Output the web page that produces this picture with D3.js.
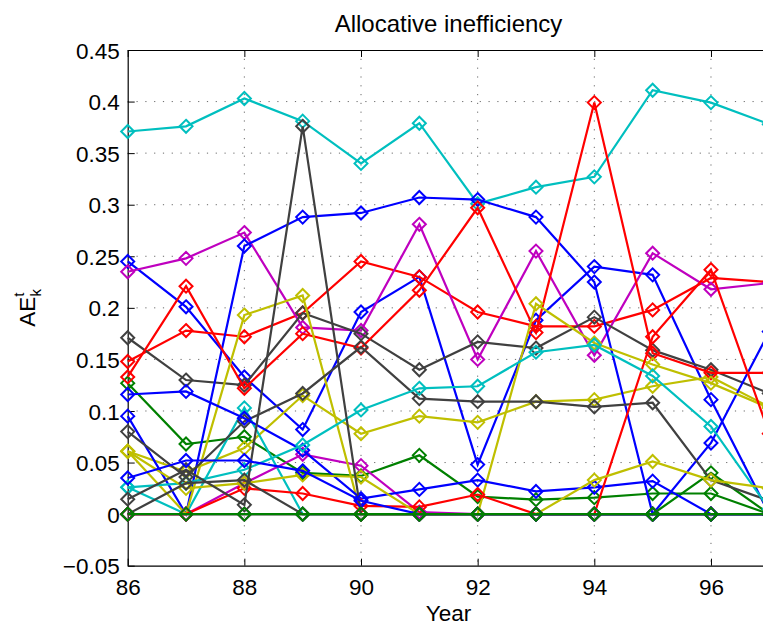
<!DOCTYPE html>
<html>
<head>
<meta charset="utf-8">
<script src="https://cdn.jsdelivr.net/npm/d3@7"></script>
<style>
  html, body { margin: 0; padding: 0; background: #fff; overflow: hidden; }
  svg { display: block; }
  text { font-family: "Liberation Sans", Arial, Helvetica, sans-serif; fill: #000; }
</style>
</head>
<body>
<div id="chart"></div>
<script>
// ---- data ----
const years = [86, 87, 88, 89, 90, 91, 92, 93, 94, 95, 96, 97];
const xTicks = [86, 88, 90, 92, 94, 96];
const yTicks = [-0.05, 0, 0.05, 0.1, 0.15, 0.2, 0.25, 0.3, 0.35, 0.4, 0.45];
const titleText = "Allocative inefficiency";
const xLabelText = "Year";

const blue1    = [0.245, 0.201, 0.133, 0.082, 0.196, 0.230, 0.048, 0.188, 0.240, 0.232, 0.111, 0.000];
const green1   = [0.127, 0.068, 0.075, 0.040, 0.037, 0.057, 0.017, 0.014, 0.016, 0.020, 0.020, 0.000];
const red1     = [0.148, 0.178, 0.172, 0.195, 0.245, 0.230, 0.196, 0.182, 0.182, 0.198, 0.229, 0.225];
const cyan1    = [0.371, 0.376, 0.403, 0.381, 0.340, 0.379, 0.301, 0.317, 0.327, 0.411, 0.399, 0.378];
const magenta1 = [0.235, 0.248, 0.273, 0.181, 0.178, 0.281, 0.150, 0.255, 0.154, 0.253, 0.218, 0.224];
const yellow1  = [0.061, 0.041, 0.064, 0.115, 0.078, 0.095, 0.089, 0.109, 0.111, 0.124, 0.133, 0.104];
const gray1    = [0.171, 0.130, 0.125, 0.195, 0.175, 0.140, 0.167, 0.161, 0.191, 0.159, 0.140, 0.117];

const blue2    = [0.095, 0.000, 0.260, 0.288, 0.292, 0.307, 0.305, 0.288, 0.225, 0.000, 0.069, 0.177];
const green2   = [0.000, 0.000, 0.000, 0.000, 0.000, 0.000, 0.000, 0.000, 0.000, 0.000, 0.040, 0.000];
const red2     = [0.133, 0.221, 0.122, 0.175, 0.161, 0.217, 0.297, 0.176, 0.399, 0.156, 0.137, 0.137];
const cyan2    = [0.026, 0.000, 0.103, 0.000, 0.000, 0.000, 0.000, 0.000, 0.000, 0.000, 0.000, 0.000];
const magenta2 = [0.000, 0.000, 0.030, 0.058, 0.047, 0.002, 0.000, 0.000, 0.000, 0.000, 0.000, 0.000];
const yellow2  = [0.061, 0.000, 0.193, 0.212, 0.000, 0.000, 0.000, 0.204, 0.166, 0.145, 0.127, 0.103];
const gray2    = [0.080, 0.036, 0.090, 0.117, 0.162, 0.112, 0.109, 0.109, 0.104, 0.108, 0.033, 0.013];

const blue3    = [0.116, 0.119, 0.093, 0.062, 0.015, 0.024, 0.033, 0.022, 0.026, 0.032, 0.000, 0.000];
const red3     = [0.000, 0.000, 0.025, 0.020, 0.008, 0.007, 0.019, 0.000, 0.000, 0.172, 0.237, 0.078];
const cyan3    = [0.026, 0.030, 0.043, 0.067, 0.101, 0.122, 0.124, 0.157, 0.164, 0.134, 0.085, 0.005];
const magenta3 = [0.000, 0.000, 0.000, 0.000, 0.000, 0.000, 0.000, 0.000, 0.000, 0.000, 0.000, 0.000];
const yellow3  = [0.061, 0.025, 0.030, 0.038, 0.036, 0.000, 0.000, 0.000, 0.033, 0.051, 0.033, 0.025];
const gray3    = [0.0145, 0.043, 0.009, 0.376, 0.000, 0.000, 0.000, 0.000, 0.000, 0.000, 0.000, 0.000];
const blue4    = [0.035, 0.052, 0.052, 0.042, 0.013, 0.000, 0.000, 0.000, 0.000, 0.000, 0.000, 0.000];
const gray4    = [0.000, 0.030, 0.033, 0.000, 0.000, 0.000, 0.000, 0.000, 0.000, 0.000, 0.000, 0.000];
const green3   = [0.000, 0.000, 0.000, 0.000, 0.000, 0.000, 0.000, 0.000, 0.000, 0.000, 0.000, 0.000];

const palette = {
  b: "#0000ff", g: "#008000", r: "#ff0000", c: "#00bfbf",
  m: "#bf00bf", y: "#bfbf00", k: "#404040"
};

const seriesList = [
  ["b", blue1], ["g", green1], ["r", red1], ["c", cyan1], ["m", magenta1], ["y", yellow1], ["k", gray1],
  ["b", blue2], ["g", green2], ["r", red2], ["c", cyan2], ["m", magenta2], ["y", yellow2], ["k", gray2],
  ["b", blue3], ["r", red3], ["c", cyan3], ["m", magenta3], ["y", yellow3], ["k", gray3],
  ["b", blue4], ["k", gray4], ["g", green3]
];

// ---- layout ----
const W = 763, H = 623;
const mLeft = 127.7, mRight = 769.3, mTop = 50, mBottom = 565.7;

const svg = d3.select("#chart").append("svg")
  .attr("width", W).attr("height", H);

const x = d3.scaleLinear().domain([86, 97]).range([mLeft, mRight]);
const y = d3.scaleLinear().domain([-0.05, 0.45]).range([mBottom, mTop]);

// grid
const grid = svg.append("g").attr("class", "grid");
grid.selectAll("line.gx").data(xTicks.slice(1)).enter().append("line")
  .attr("x1", d => x(d)).attr("x2", d => x(d))
  .attr("y1", mTop).attr("y2", mBottom)
  .attr("stroke", "#6a6a6a").attr("stroke-width", 1)
  .attr("stroke-dasharray", "1.2,7.6");
grid.selectAll("line.gy").data(yTicks.slice(1, -1)).enter().append("line")
  .attr("x1", mLeft).attr("x2", mRight)
  .attr("y1", d => y(d)).attr("y2", d => y(d))
  .attr("stroke", "#6a6a6a").attr("stroke-width", 1)
  .attr("stroke-dasharray", "1.2,7.6");

const fmt = d => {
  const s = String(Math.round(d * 100) / 100);
  return s.replace("-", "\u2212");
};

// axes
const fontSize = 22.5;
const yAxis = d3.axisLeft(y).tickValues(yTicks).tickSizeInner(-7).tickSizeOuter(0)
  .tickPadding(8).tickFormat(fmt);
const gy = svg.append("g").attr("transform", `translate(${mLeft},0)`).call(yAxis);
gy.selectAll("text").attr("font-size", fontSize).attr("dy", "0.36em")
  .style("font-family", "'Liberation Sans', Arial, sans-serif");

const xAxis = d3.axisBottom(x).tickValues(xTicks).tickSizeInner(-7).tickSizeOuter(0)
  .tickPadding(13).tickFormat(d => String(d));
const gx = svg.append("g").attr("transform", `translate(0,${mBottom})`).call(xAxis);
gx.selectAll("text").attr("font-size", fontSize)
  .style("font-family", "'Liberation Sans', Arial, sans-serif");

const xAxisTop = d3.axisTop(x).tickValues(xTicks).tickSizeInner(-7).tickSizeOuter(0)
  .tickFormat(() => "");
svg.append("g").attr("transform", `translate(0,${mTop})`).call(xAxisTop);

svg.selectAll(".domain").attr("stroke", "#000").attr("stroke-width", 1.2);
svg.selectAll(".tick line").attr("stroke", "#000").attr("stroke-width", 1);

svg.append("line").attr("x1", mRight).attr("x2", mRight).attr("y1", mTop).attr("y2", mBottom)
  .attr("stroke", "#000").attr("stroke-width", 1.2);

// series
const lineGen = d3.line().x((d, i) => x(years[i])).y(d => y(d));
const diamond = "M0,-6.5L6.5,0L0,6.5L-6.5,0Z";

const plot = svg.append("g").attr("class", "series");
seriesList.forEach(([c, vals]) => {
  const g = plot.append("g");
  g.append("path").datum(vals)
    .attr("d", lineGen)
    .attr("fill", "none")
    .attr("stroke", palette[c])
    .attr("stroke-width", 2.2)
    .attr("stroke-linejoin", "miter");
  g.selectAll("path.mk").data(vals).enter().append("path")
    .attr("class", "mk")
    .attr("d", diamond)
    .attr("transform", (d, i) => `translate(${x(years[i])},${y(d)})`)
    .attr("fill", "none")
    .attr("stroke", palette[c])
    .attr("stroke-width", 2);
});

// title & labels
svg.append("text").attr("x", (mLeft + mRight) / 2).attr("y", 31.5)
  .attr("text-anchor", "middle").attr("font-size", 24).text(titleText);

svg.append("text").attr("x", (mLeft + mRight) / 2).attr("y", 621)
  .attr("text-anchor", "middle").attr("font-size", fontSize).text(xLabelText);

const yl = svg.append("text")
  .attr("transform", `translate(35,${(mTop + mBottom) / 2}) rotate(-90)`)
  .attr("text-anchor", "middle").attr("font-size", fontSize);
yl.append("tspan").text("AE");
yl.append("tspan").attr("font-size", 15).attr("dy", -11).text("t");
yl.append("tspan").attr("font-size", 15).attr("dx", -4).attr("dy", 17).text("k");
</script>
</body>
</html>
